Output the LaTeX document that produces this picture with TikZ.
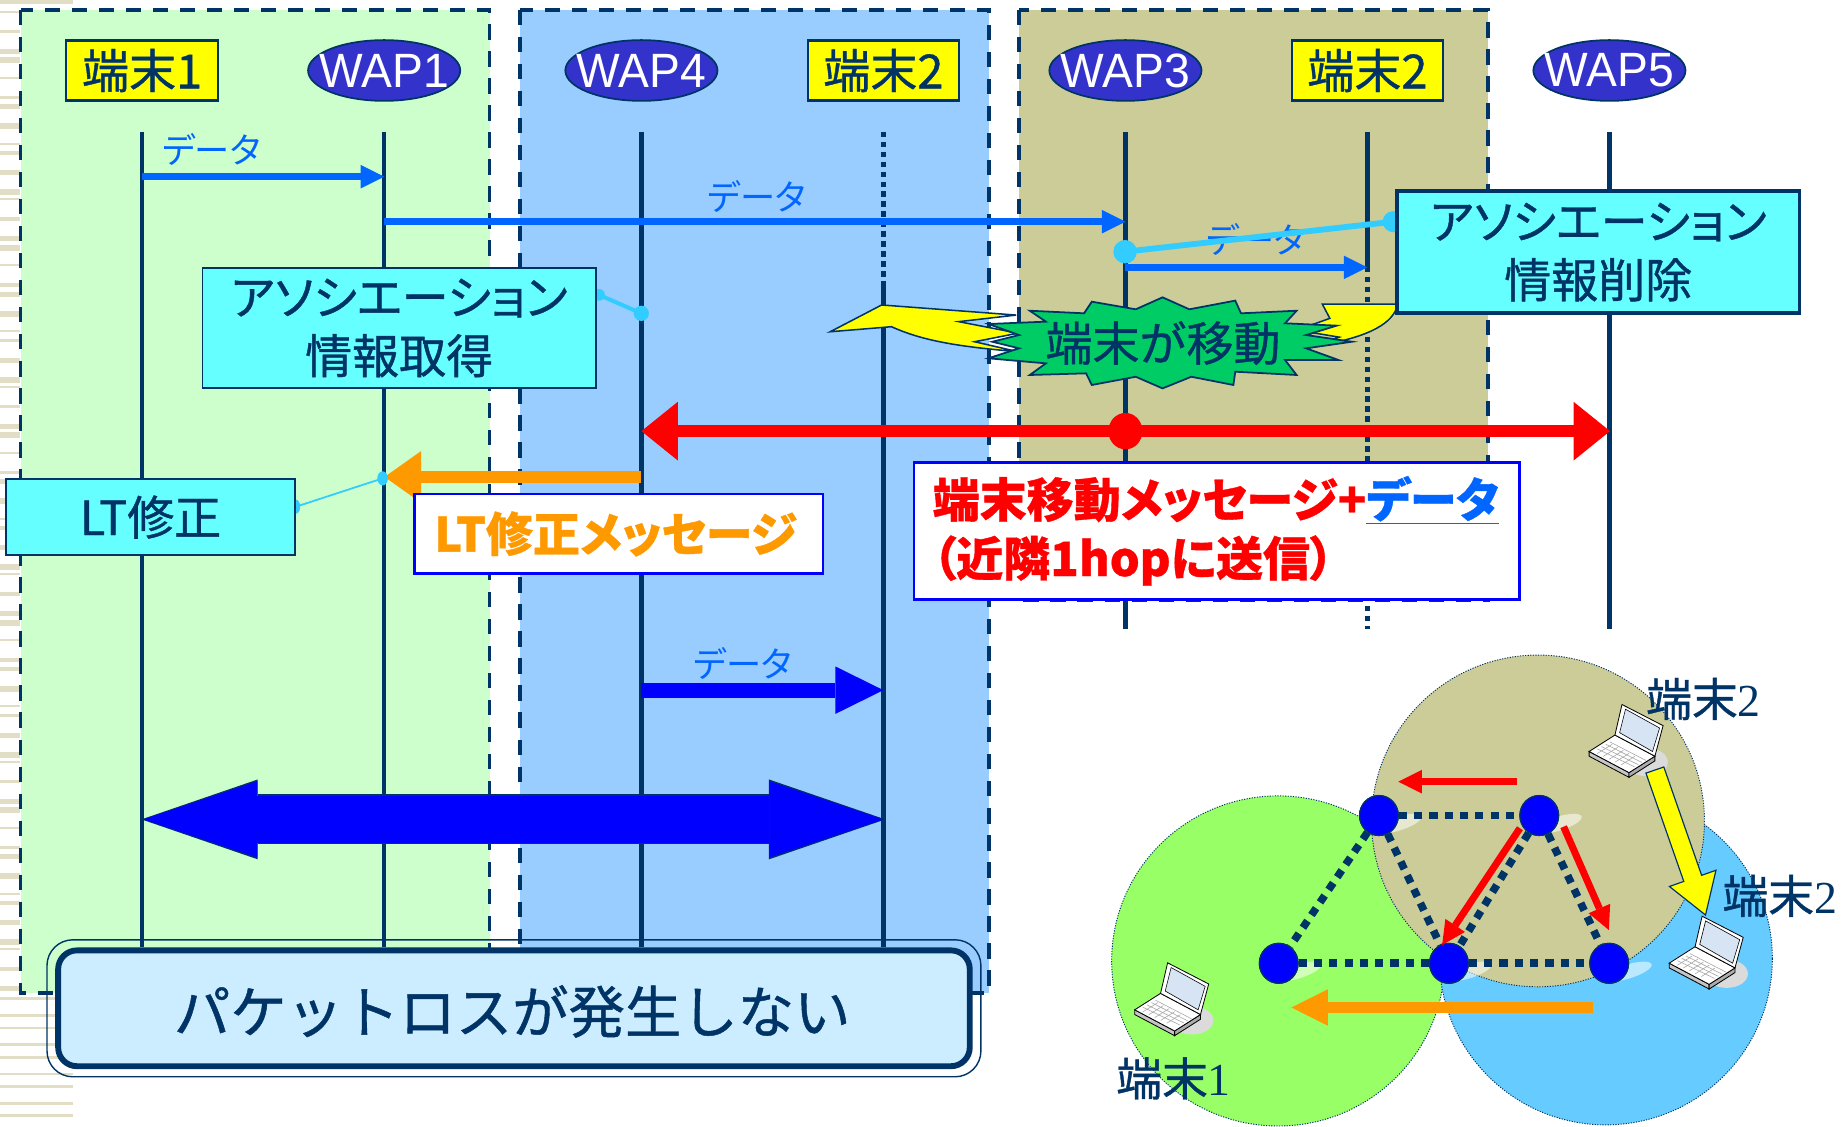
\documentclass[tikz,border=0pt]{standalone}
\usepackage{fontspec}
\usetikzlibrary{arrows.meta,shapes.geometric,calc}
\newfontfamily\jp[RawFeature=+palt,FakeBold=0.8]{Noto Sans CJK JP}
\newfontfamily\jpw[FakeBold=0.8]{Noto Sans CJK JP}
\newfontfamily\jplight[RawFeature=+palt]{Noto Sans CJK JP}
\newfontfamily\wapfont[FakeStretch=0.96]{Liberation Sans}
\newfontfamily\numserif{Liberation Serif}

\definecolor{navy}{HTML}{003366}
\definecolor{panelgreen}{HTML}{CCFFCC}
\definecolor{panelblue}{HTML}{99CCFF}
\definecolor{panelkhaki}{HTML}{CCCC99}
\definecolor{waptone}{HTML}{3333CC}
\definecolor{termyellow}{HTML}{FFFF00}
\definecolor{databluelight}{HTML}{0066FF}
\definecolor{deepblue}{HTML}{0000FF}
\definecolor{cyanbox}{HTML}{66FFFF}
\definecolor{linkcyan}{HTML}{33CCFF}
\definecolor{alertred}{HTML}{FF0000}
\definecolor{msgorange}{HTML}{FF9900}
\definecolor{burstgreen}{HTML}{00CC66}
\definecolor{notebox}{HTML}{CCECFF}
\definecolor{stripe}{HTML}{E2DEC6}
\definecolor{cellgreen}{HTML}{99FF66}
\definecolor{cellblue}{HTML}{66CCFF}
\definecolor{screenblue}{HTML}{D6E4F4}

\tikzset{
  paneledge/.style={draw=navy, line width=3.3pt, dash pattern=on 13pt off 10pt},
  lifeline/.style={draw=navy, line width=4pt},
  lifedots/.style={draw=navy, line width=4.5pt, dash pattern=on 4.5pt off 4pt},
  termbox/.style={rectangle, draw=navy, line width=1.8pt, fill=termyellow,
    minimum width=129pt, minimum height=51pt, inner sep=0pt, text=navy,
    font=\jpw\fontsize{40}{40}\selectfont},
  wapnode/.style={ellipse, draw=navy, line width=1.5pt, fill=waptone,
    minimum width=129.5pt, minimum height=51.7pt, inner sep=0pt, text=white,
    font=\wapfont\fontsize{41}{41}\selectfont},
  datalabel/.style={text=databluelight, font=\jplight\fontsize{30}{30}\selectfont, inner sep=0pt},
  dataarrow/.style={draw=databluelight, line width=6pt,
    -{Triangle[length=20pt,width=20pt,line width=0pt]}},
  cyanlink/.style={draw=linkcyan},
  assocbox/.style={rectangle, fill=cyanbox, draw=navy, align=center, text=navy,
    inner sep=0pt, font=\jp\fontsize{40}{50}\selectfont},
  msgbox/.style={rectangle, fill=white, draw=deepblue, line width=2pt, inner sep=0pt},
  cellline/.style={draw=navy, line width=0.8pt, dash pattern=on 1pt off 1.2pt},
  apnode/.style={ellipse, minimum width=33pt, minimum height=34pt, inner sep=0pt,
    fill=deepblue, draw=navy, line width=1pt},
  meshlink/.style={draw=navy, line width=6.5pt, dash pattern=on 7pt off 6pt},
  redarrow/.style={draw=alertred, line width=6pt,
    -{Triangle[length=20pt,width=20pt,line width=0pt]}},
  celllabel/.style={text=navy, inner sep=0pt, font=\jpw\fontsize{39}{39}\selectfont},
  laptop/.pic={
    \fill[gray!28] (50,50) ellipse [x radius=18, y radius=12];
    \filldraw[fill=gray!45, draw=black, line width=0.7pt]
      (1,41) -- (35,59) -- (35,63) -- (1,45) -- cycle;
    \filldraw[fill=gray!65, draw=black, line width=0.7pt]
      (35,59) -- (57,45) -- (57,49) -- (35,63) -- cycle;
    \filldraw[fill=white, draw=black, line width=0.7pt]
      (1,41) -- (23,27) -- (57,45) -- (35,59) -- cycle;
    \foreach \t in {0.2,0.38,0.56,0.74}
      \draw[gray!70, line width=0.5pt] ($(4,41)!\t!(24,30)$) -- ($(36,56)!\t!(54,46)$);
    \foreach \s in {0.12,0.28,...,0.9}
      \draw[gray!70, line width=0.5pt] ($(4,41)!\s!(36,56)$) -- ($(17,33)!\s!(47,49)$);
    \filldraw[fill=white, draw=black, line width=0.7pt]
      (23,27) -- (29,1) -- (64,19) -- (57,45) -- cycle;
    \fill[screenblue] (27,25) -- (32,5) -- (61,21) -- (55,41) -- cycle;
    \draw[black, line width=0.5pt] (27,25) -- (32,5) -- (61,21) -- (55,41) -- cycle;
  }
}

\begin{document}
\begin{tikzpicture}[x=1pt, y=-1pt, line join=miter]
\useasboundingbox (0,0) rectangle (1568,959);
\fill[white] (0,0) rectangle (1568,959);

% slide border stripes on the left
\fill[stripe] (0,0) rectangle (62,3.5);
\foreach \k in {0,...,62} {
  \pgfmathsetmacro\yy{9+13.3*\k+3*mod(\k,3)}
  \pgfmathsetmacro\hh{2+mod(\k*5,4)}
  \fill[stripe] (0,\yy) rectangle (17,\yy+\hh);
}
\foreach \k in {0,...,8} {
  \pgfmathsetmacro\yy{849+12.4*\k+2*mod(\k,2)}
  \pgfmathsetmacro\hh{2.5+mod(\k*3,3)}
  \fill[stripe] (0,\yy) rectangle (62,\yy+\hh);
}

% coverage panels
\fill[panelgreen] (17.5,8.5) rectangle (416.7,845);
\fill[panelblue] (442.5,8.5) rectangle (842,845);
\fill[panelkhaki] (867.5,8.5) rectangle (1266.4,510.8);
\draw[paneledge] (17.5,8.5) rectangle (416.7,845);
\draw[paneledge] (442.5,8.5) rectangle (842,845);
\draw[paneledge] (867.5,8.5) rectangle (1266.4,510.8);

% lifelines
\coordinate (t1a) at (121,112);  \coordinate (t1b) at (121,806);
\coordinate (w1a) at (327,112);  \coordinate (w1b) at (327,806);
\coordinate (w4a) at (546,112);  \coordinate (w4b) at (546,806);
\coordinate (t2a) at (752,112);  \coordinate (t2m) at (752,240);  \coordinate (t2b) at (752,806);
\coordinate (w3a) at (958,112);  \coordinate (w3b) at (958,535.5);
\coordinate (t3a) at (1164,112); \coordinate (t3m) at (1164,227); \coordinate (t3b) at (1164,535.5);
\coordinate (w5a) at (1370,112); \coordinate (w5b) at (1370,535.5);
\draw[lifeline] (t1a) -- (t1b);
\draw[lifeline] (w1a) -- (w1b);
\draw[lifeline] (w4a) -- (w4b);
\draw[lifedots] (t2a) -- (t2m);
\draw[lifeline] (t2m) -- (t2b);
\draw[lifeline] (w3a) -- (w3b);
\draw[lifeline] (t3a) -- (t3m);
\draw[lifedots] (t3m) -- (t3b);
\draw[lifeline] (w5a) -- (w5b);

% headers
\node[termbox] (h1) at (121,60) {端末1};
\node[wapnode] (h2) at (327,60) {\makebox[0pt]{WAP1}};
\node[wapnode] (h3) at (546,60) {\makebox[0pt]{WAP4}};
\node[termbox] (h4) at (752,60) {端末2};
\node[wapnode] (h5) at (958,60) {\makebox[0pt]{WAP3}};
\node[termbox] (h6) at (1164,60) {端末2};
\node[wapnode] (h7) at (1370,60) {\makebox[0pt]{WAP5}};

% data forwarding before the move
\coordinate (d1s) at (121,150.4); \coordinate (d1e) at (327,150.4);
\coordinate (d2s) at (327,188.7); \coordinate (d2e) at (958,188.7);
\coordinate (d3s) at (958,227.6); \coordinate (d3e) at (1164,227.6);
\draw[dataarrow] (d1s) -- (d1e);
\draw[dataarrow] (d2s) -- (d2e);
\draw[dataarrow] (d3s) -- (d3e);
\node[datalabel] (dl1) at (180,127.5) {データ};
\node[datalabel] (dl2) at (644.5,167.5) {データ};
\node[datalabel] (dl3) at (1069,204) {データ};

% association info fetch (WAP4)
\coordinate (c1a) at (509.9,251); \coordinate (c1b) at (545.9,266.7);
\draw[cyanlink, line width=3.4pt] (c1a) -- (c1b);
\fill[linkcyan] (c1b) circle [radius=6.5];
\fill[linkcyan] (c1a) circle [radius=5];
\node[assocbox, line width=1.5pt, minimum width=335pt, minimum height=102.7pt]
  (assoc1) at (339.8,279.2) {アソシエーション\\情報取得};

% association info removal (WAP3)
\coordinate (c2a) at (957.7,214.3); \coordinate (c2b) at (1186,188.7);
\draw[cyanlink, line width=5pt] (c2a) -- (c2b);
\fill[linkcyan] (c2a) circle [radius=10];
\fill[linkcyan] (c2b) circle [radius=9];

% lightning bolts of the move event
\filldraw[fill=termyellow, draw=navy, line width=1.3pt]
  (706.7,282.4) -- (750.5,259.6) -- (865,268.2) -- (816.1,273.8) -- (866.6,283.6)
  -- (829.6,290.9) -- (866.6,299.4) .. controls (815,295) and (785,290) .. (758.9,278.1)
  -- cycle;
\filldraw[fill=termyellow, draw=navy, line width=1.3pt]
  (1125.6,258.8) -- (1189,258.8) -- (1189,262) .. controls (1183,278) and (1160,288) .. (1118,295)
  -- (1140,287) -- (1104,281) -- (1132,271) -- cycle;
\node[assocbox, line width=3pt, minimum width=343pt, minimum height=104pt]
  (assoc2) at (1360.5,214.6) {アソシエーション\\情報削除};

% starburst
\filldraw[fill=burstgreen, draw=navy, line width=1.5pt]
  (876.6,264.5) -- (922.8,266.7) -- (929.4,256.8) -- (966.8,263.3) -- (989.6,253.1)
  -- (1012.4,263.3) -- (1051.5,255.9) -- (1056.4,266.7) -- (1103.7,264.5) -- (1093.9,275.2)
  -- (1137.9,277.2) -- (1111.8,285.2) -- (1150.9,290.9) -- (1111.8,296.5) -- (1139.5,306.5)
  -- (1093.9,306.5) -- (1103.7,319.2) -- (1051.5,316.4) -- (1049.9,327.7) -- (1014.1,320.7)
  -- (989.6,330.6) -- (966.8,320.7) -- (929.4,327.7) -- (924.5,317.8) -- (876.6,319.2)
  -- (890.3,309.3) -- (841.4,305.0) -- (867.5,296.5) -- (844.6,290.9) -- (867.5,285.2)
  -- (841.4,275.8) -- (890.3,273.8) -- cycle;
\node[text=navy, inner sep=0pt, font=\jpw\fontsize{40}{40}\selectfont] (movetext) at (990,292) {端末が移動};

% terminal move message to 1-hop neighbours
\coordinate (rs) at (546,367); \coordinate (re) at (1370.5,367);
\draw[draw=alertred, line width=10pt,
  {Triangle[length=31pt,width=50pt,line width=0pt]}-{Triangle[length=31pt,width=50pt,line width=0pt]}]
  (rs) -- (re);
\fill[alertred] (958,367) ellipse [x radius=14.5, y radius=15.5];

% LT correction message
\coordinate (os) at (546,406); \coordinate (oe) at (327.4,406);
\draw[draw=msgorange, line width=10pt, -{Triangle[length=31pt,width=44pt,line width=0pt]}] (os) -- (oe);
\coordinate (c3a) at (252,431.3); \coordinate (c3b) at (325.7,407.2);
\draw[cyanlink, line width=1.5pt] (c3a) -- (c3b);
\fill[linkcyan] (c3b) ellipse [x radius=4.5, y radius=6];
\fill[linkcyan] (c3a) ellipse [x radius=3.5, y radius=6];
\node[assocbox, line width=1.5pt, minimum width=245.4pt, minimum height=64.7pt]
  (ltfix) at (128.1,440.2) {LT修正};
\node[msgbox, minimum width=347.5pt, minimum height=67.5pt] (ltmsgbox) at (526.7,454.3) {};
\node[text=msgorange, inner sep=0pt, font=\jp\bfseries\fontsize{40}{40}\selectfont]
  (ltmsg) at (524,454.5) {LT修正メッセージ};

\node[msgbox, minimum width=515.6pt, minimum height=116.6pt] (mvbox) at (1035.6,451.9) {};
\node[anchor=west, text=alertred, inner sep=0pt, align=left,
  font=\jp\bfseries\fontsize{40}{50}\selectfont]
  (mvtext) at ([xshift=17pt]mvbox.west)
  {端末移動メッセージ+\textcolor{databluelight}{\underline{データ}}\\（近隣1hopに送信）};

% data delivered after the move
\coordinate (d4s) at (546,587.5); \coordinate (d4e) at (752,587.5);
\draw[draw=deepblue, line width=13pt, -{Triangle[length=41pt,width=40.5pt,line width=0pt]}] (d4s) -- (d4e);
\node[datalabel] (dl4) at (632.5,565) {データ};

% end-to-end path
\coordinate (bs) at (122,697.5); \coordinate (be) at (752,697.5);
\draw[draw=navy, line width=42.6pt, shorten <=-1.6pt, shorten >=-1.6pt,
  {Triangle[length=99pt,width=68pt,line width=0pt]}-{Triangle[length=99pt,width=68pt,line width=0pt]}]
  (bs) -- (be);
\draw[draw=deepblue, line width=40.6pt,
  {Triangle[length=97pt,width=65pt,line width=0pt]}-{Triangle[length=97pt,width=65pt,line width=0pt]}]
  (bs) -- (be);

% conclusion box
\node[rectangle, rounded corners=16pt, draw=navy, line width=5pt, fill=notebox,
  minimum width=776pt, minimum height=98.6pt, inner sep=0pt] (nobox) at (437.5,858.3) {};
\draw[navy, line width=1.2pt, rounded corners=22pt]
  ([shift={(-7,-6.5)}]nobox.north west) rectangle ([shift={(7,6.5)}]nobox.south east);
\node[text=navy, inner sep=0pt, font=\jpw\fontsize{48}{48}\selectfont] (notext) at (436,861) {パケットロスが発生しない};

% ---- cell topology sketch ----
\draw[cellline, fill=cellgreen] (1088,818) ellipse [x radius=141.7, y radius=140.5];
\draw[cellline, fill=cellblue] (1367,816) ellipse [x radius=141.7, y radius=141.5];
\draw[cellline, fill=panelkhaki] (1309.2,698.8) ellipse [x radius=141.7, y radius=141.2];

\coordinate (pA) at (1173.8,694.2);
\coordinate (pB) at (1310.3,694.2);
\coordinate (pC) at (1088.5,820);
\coordinate (pD) at (1233.4,820);
\coordinate (pE) at (1369.8,820);
\foreach \p in {pA,pB,pC,pD,pE}
  \fill[white, opacity=0.55] ($(\p)+(16,7)$) ellipse [x radius=21, y radius=6, rotate=17];

\node[apnode] (A) at (pA) {};
\node[apnode] (B) at (pB) {};
\node[apnode] (C) at (pC) {};
\node[apnode] (D) at (pD) {};
\node[apnode] (E) at (pE) {};
\draw[meshlink] (A) -- (B);
\draw[meshlink] (A) -- (C);
\draw[meshlink] (A) -- (D);
\draw[meshlink] (B) -- (D);
\draw[meshlink] (B) -- (E);
\draw[meshlink] (C) -- (D);
\draw[meshlink] (D) -- (E);
\node[apnode] (A2) at (pA) {};
\node[apnode] (B2) at (pB) {};
\node[apnode] (C2) at (pC) {};
\node[apnode] (D2) at (pD) {};
\node[apnode] (E2) at (pE) {};

\coordinate (r1s) at (1291.7,665.4); \coordinate (r1e) at (1190.3,665.4);
\coordinate (r2s) at (1293.8,705);   \coordinate (r2e) at (1227.6,804.4);
\coordinate (r3s) at (1331,703.7);   \coordinate (r3e) at (1369.5,791.7);
\draw[redarrow] (r1s) -- (r1e);
\draw[redarrow] (r2s) -- (r2e);
\draw[redarrow] (r3s) -- (r3e);

\coordinate (o2s) at (1355.8,857.6); \coordinate (o2e) at (1099.3,857.6);
\draw[draw=msgorange, line width=10pt, -{Triangle[length=31pt,width=31pt,line width=0pt]}] (o2s) -- (o2e);

\pic at (1351.7,598.7) {laptop};
\pic at (1419.9,778.9) {laptop};
\pic at (964.9,818.6) {laptop};

% terminal 2 moves
\filldraw[fill=termyellow, draw=navy, line width=1pt]
  (1401.1,658.1) -- (1433.3,750.3) -- (1421.1,754.6) -- (1451.8,778.9)
  -- (1460.7,740.8) -- (1448.5,745.1) -- (1416.3,652.9) -- cycle;

\node[celllabel] (lb2a) at (1450,595) {端末{\numserif 2}};
\node[celllabel] (lb2b) at (1515,762.6) {端末{\numserif 2}};
\node[celllabel] (lb1) at (999,918) {端末{\numserif 1}};
\end{tikzpicture}
\end{document}
